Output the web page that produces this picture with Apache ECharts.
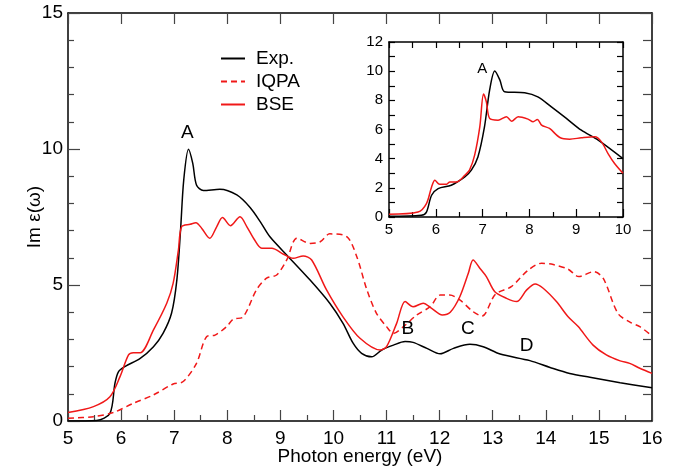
<!DOCTYPE html>
<html>
<head>
<meta charset="utf-8">
<script src="https://cdn.jsdelivr.net/npm/echarts@6/dist/echarts.min.js"></script>
<style>
  html, body { margin: 0; padding: 0; background: #fff; }
  #chart { width: 689px; height: 470px; }
</style>
</head>
<body>
<div id="chart"></div>
<script>
// main panel, Exp.
const expE = [5.0, 5.54, 5.79, 5.885, 5.95, 6.07, 6.36, 6.61, 6.79, 6.95, 7.05, 7.12, 7.18, 7.27, 7.35, 7.42, 7.55, 7.86, 8.18, 8.43, 8.62, 8.8, 9.15, 9.56, 9.93, 10.18, 10.37, 10.53, 10.72, 10.91, 11.13, 11.35, 11.5, 11.76, 12.01, 12.26, 12.57, 12.82, 13.14, 13.7, 14.08, 14.45, 14.83, 15.4, 16.0];
const expV = [0.0, 0.02, 0.28, 1.39, 1.81, 2.0, 2.3, 2.73, 3.22, 3.96, 5.18, 7.02, 8.86, 9.99, 9.47, 8.68, 8.47, 8.52, 8.31, 7.85, 7.33, 6.78, 6.04, 5.18, 4.33, 3.59, 2.86, 2.49, 2.36, 2.61, 2.79, 2.92, 2.89, 2.67, 2.47, 2.67, 2.82, 2.73, 2.46, 2.22, 1.97, 1.75, 1.61, 1.41, 1.22];

// main panel, IQPA
const iqpaE = [5.0, 5.48, 5.85, 6.23, 6.61, 6.98, 7.17, 7.42, 7.61, 7.77, 7.99, 8.11, 8.3, 8.55, 8.74, 8.93, 9.12, 9.31, 9.56, 9.75, 9.93, 10.25, 10.44, 10.63, 10.81, 11.0, 11.13, 11.32, 11.57, 11.82, 12.01, 12.19, 12.38, 12.63, 12.8, 13.05, 13.35, 13.67, 13.92, 14.14, 14.42, 14.62, 14.9, 15.08, 15.36, 15.6, 15.77, 16.0];
const iqpaV = [0.1, 0.16, 0.31, 0.65, 0.96, 1.36, 1.45, 2.12, 3.1, 3.16, 3.47, 3.74, 3.83, 4.82, 5.25, 5.37, 5.92, 6.72, 6.53, 6.59, 6.88, 6.78, 6.04, 4.82, 3.96, 3.47, 3.22, 3.47, 3.9, 4.2, 4.63, 4.63, 4.45, 4.02, 3.86, 4.66, 4.94, 5.55, 5.8, 5.75, 5.58, 5.31, 5.49, 5.25, 3.95, 3.62, 3.47, 3.13];

// main panel, BSE
const bseE = [5.0, 5.48, 5.79, 5.98, 6.14, 6.23, 6.36, 6.61, 6.86, 6.98, 7.08, 7.14, 7.3, 7.41, 7.52, 7.67, 7.8, 7.91, 8.06, 8.24, 8.37, 8.5, 8.65, 8.84, 9.05, 9.24, 9.43, 9.59, 9.87, 10.18, 10.5, 10.88, 11.0, 11.19, 11.35, 11.5, 11.69, 11.85, 12.05, 12.2, 12.38, 12.54, 12.63, 12.76, 12.88, 13.04, 13.26, 13.45, 13.64, 13.8, 13.95, 14.2, 14.42, 14.61, 14.89, 15.14, 15.4, 15.58, 15.77, 16.0];
const bseV = [0.31, 0.53, 0.89, 1.63, 2.43, 2.51, 2.51, 3.35, 4.33, 5.06, 6.29, 7.14, 7.23, 7.29, 7.08, 6.72, 7.14, 7.48, 7.18, 7.51, 7.14, 6.7, 6.35, 6.35, 6.14, 5.98, 6.07, 5.92, 4.82, 3.83, 3.04, 2.61, 2.73, 3.59, 4.39, 4.2, 4.33, 4.14, 3.9, 4.0, 4.57, 5.43, 5.92, 5.61, 5.31, 4.75, 4.51, 4.39, 4.82, 5.04, 4.88, 4.39, 3.83, 3.47, 2.79, 2.43, 2.21, 2.12, 1.94, 1.75];

// inset, Exp.
const insExpE = [5.0, 5.69, 5.8, 5.91, 6.05, 6.33, 6.62, 6.76, 6.9, 7.04, 7.15, 7.26, 7.37, 7.47, 7.9, 8.18, 8.47, 8.79, 9.11, 9.47, 10.0];
const insExpV = [0.05, 0.12, 0.34, 1.49, 1.95, 2.18, 2.75, 3.21, 4.12, 6.18, 8.7, 10.01, 9.39, 8.59, 8.52, 8.24, 7.55, 6.76, 5.95, 5.27, 4.0];

// inset, BSE
const insBseE = [5.0, 5.62, 5.8, 5.91, 5.98, 6.08, 6.23, 6.3, 6.44, 6.62, 6.72, 6.83, 6.94, 7.02, 7.08, 7.15, 7.33, 7.51, 7.62, 7.76, 7.97, 8.08, 8.17, 8.26, 8.43, 8.65, 8.86, 9.11, 9.4, 9.54, 9.68, 9.82, 10.0];
const insBseV = [0.19, 0.34, 0.92, 2.06, 2.52, 2.25, 2.25, 2.4, 2.4, 2.86, 3.21, 4.24, 6.18, 8.43, 7.9, 6.76, 6.64, 6.87, 6.57, 6.87, 6.71, 6.53, 6.69, 6.3, 6.07, 5.45, 5.34, 5.43, 5.5, 5.15, 4.35, 3.67, 3.0];

// peak labels
const peakNames = ['A', 'B', 'C', 'D'];
const peakE = [7.25, 11.4, 12.53, 13.64];
const peakV = [10.59, 3.38, 3.38, 2.77];
const insPeakNames = ['A'];
const insPeakE = [6.99];
const insPeakV = [10.17];

const seriesNames = ['Exp.', 'IQPA', 'BSE'];

const FONT = 'Liberation Sans, Arial, Helvetica, sans-serif';
const RED = '#f01818';

const zip = (xs, ys) => xs.map((x, i) => [x, ys[i]]);
const labels = (names, xs, ys) => names.map((n, i) => ({ name: n, value: [xs[i], ys[i]] }));

function axis(gridIndex, opts) {
  return Object.assign({
    type: 'value',
    gridIndex,
    axisLine: { show: true, onZero: false, lineStyle: { color: '#000', width: 1.5 } },
    splitLine: { show: false },
    axisTick: { inside: true, lineStyle: { color: '#444', width: 1.2 } },
  }, opts);
}

function curve(name, xIdx, xs, ys, color, dashed, z) {
  return {
    name, type: 'line', xAxisIndex: xIdx, yAxisIndex: xIdx, z: z || 2,
    data: zip(xs, ys), showSymbol: false, symbol: 'none',
    smooth: 0.3,
    lineStyle: { color, width: 1.5, type: dashed ? [6, 4] : 'solid' },
    itemStyle: { color },
  };
}

// scatter defaults to opacity 0.8, which greys the labels out
function peakSeries(name, xIdx, names, xs, ys, size) {
  return {
    name, type: 'scatter', xAxisIndex: xIdx, yAxisIndex: xIdx, z: 8,
    data: labels(names, xs, ys), symbolSize: 0,
    itemStyle: { color: 'transparent', opacity: 1 },
    label: {
      show: true, position: 'inside', formatter: '{b}',
      fontFamily: FONT, fontSize: size, color: '#000', opacity: 1,
      textBorderWidth: 0, textShadowBlur: 0,
    },
  };
}

const chart = echarts.init(document.getElementById('chart'));

const option = {
  backgroundColor: '#fff',
  animation: false,
  textStyle: { fontFamily: FONT },
  legend: {
    data: seriesNames,
    orient: 'vertical',
    left: 215,
    top: 42,
    itemWidth: 24,
    itemHeight: 14,
    itemGap: 0,
    itemStyle: { opacity: 0 },
    textStyle: { fontFamily: FONT, fontSize: 19, color: '#000', lineHeight: 23, padding: [0, 0, 0, 6] },
  },
  grid: [
    { left: 68, top: 13, width: 584, height: 408, outerBoundsMode: 'none', containLabel: false },
    { left: 389, top: 42, width: 234, height: 175, show: true, backgroundColor: '#fff', borderWidth: 0, z: 5, outerBoundsMode: 'none', containLabel: false }
  ],
  xAxis: [
    axis(0, {
      min: 5, max: 16, interval: 1, position: 'bottom',
      name: 'Photon energy (eV)', nameLocation: 'middle', nameGap: 26, nameMoveOverlap: false,
      nameTextStyle: { fontFamily: FONT, fontSize: 19, color: '#000' },
      axisTick: { inside: true, length: 11, lineStyle: { color: '#444', width: 1.2 } },
      minorTick: { show: true, splitNumber: 2, length: 6, lineStyle: { color: '#444', width: 1.2 } },
      axisLabel: { fontFamily: FONT, fontSize: 19, color: '#000', margin: 8 },
    }),
    axis(0, {
      min: 5, max: 16, interval: 1, position: 'top',
      axisTick: { inside: true, length: 11, lineStyle: { color: '#444', width: 1.2 } },
      axisLabel: { show: false },
    }),
    axis(1, {
      min: 5, max: 10, interval: 1, position: 'bottom', z: 6,
      axisTick: { inside: true, length: 8, lineStyle: { color: '#000', width: 1.2 } },
      minorTick: { show: true, splitNumber: 2, length: 5, lineStyle: { color: '#000', width: 1.2 } },
      axisLabel: { fontFamily: FONT, fontSize: 15, color: '#000', margin: 5 },
    }),
    axis(1, {
      min: 5, max: 10, interval: 1, position: 'top', z: 6,
      axisTick: { inside: true, length: 6, lineStyle: { color: '#000', width: 1.2 } },
      minorTick: { show: true, splitNumber: 2, length: 6, lineStyle: { color: '#000', width: 1.2 } },
      axisLabel: { show: false },
    }),
  ],
  yAxis: [
    axis(0, {
      min: 0, max: 15, interval: 5, position: 'left',
      name: 'Im ε(ω)', nameLocation: 'middle', nameGap: 24, nameRotate: 90, nameMoveOverlap: false,
      nameTextStyle: { fontFamily: FONT, fontSize: 19, color: '#000' },
      axisTick: { inside: true, length: 12, lineStyle: { color: '#444', width: 1.2 } },
      minorTick: { show: true, splitNumber: 5, length: 6, lineStyle: { color: '#444', width: 1.2 } },
      axisLabel: { fontFamily: FONT, fontSize: 19, color: '#000', margin: 5 },
    }),
    axis(0, {
      min: 0, max: 15, interval: 5, position: 'right',
      axisTick: { inside: true, length: 12, lineStyle: { color: '#444', width: 1.2 } },
      minorTick: { show: true, splitNumber: 5, length: 9, lineStyle: { color: '#444', width: 1.2 } },
      axisLabel: { show: false },
    }),
    axis(1, {
      min: 0, max: 12, interval: 2, position: 'left', z: 6,
      axisTick: { inside: true, length: 6, lineStyle: { color: '#000', width: 1.2 } },
      minorTick: { show: true, splitNumber: 2, length: 6, lineStyle: { color: '#000', width: 1.2 } },
      axisLabel: { fontFamily: FONT, fontSize: 15, color: '#000', margin: 6 },
    }),
    axis(1, {
      min: 0, max: 12, interval: 2, position: 'right', z: 6,
      axisTick: { inside: true, length: 6, lineStyle: { color: '#000', width: 1.2 } },
      minorTick: { show: true, splitNumber: 2, length: 6, lineStyle: { color: '#000', width: 1.2 } },
      axisLabel: { show: false },
    }),
  ],
  series: [
    curve('Exp.', 0, expE, expV, '#000', false),
    curve('IQPA', 0, iqpaE, iqpaV, RED, true),
    curve('BSE', 0, bseE, bseV, RED, false),
    curve('insetExp', 2, insExpE, insExpV, '#000', false, 7),
    curve('insetBSE', 2, insBseE, insBseV, RED, false, 7),
    peakSeries('peaks', 0, peakNames, peakE, peakV, 19),
    peakSeries('insetPeaks', 2, insPeakNames, insPeakE, insPeakV, 15),
  ],
};

chart.setOption(option);
</script>
</body>
</html>
